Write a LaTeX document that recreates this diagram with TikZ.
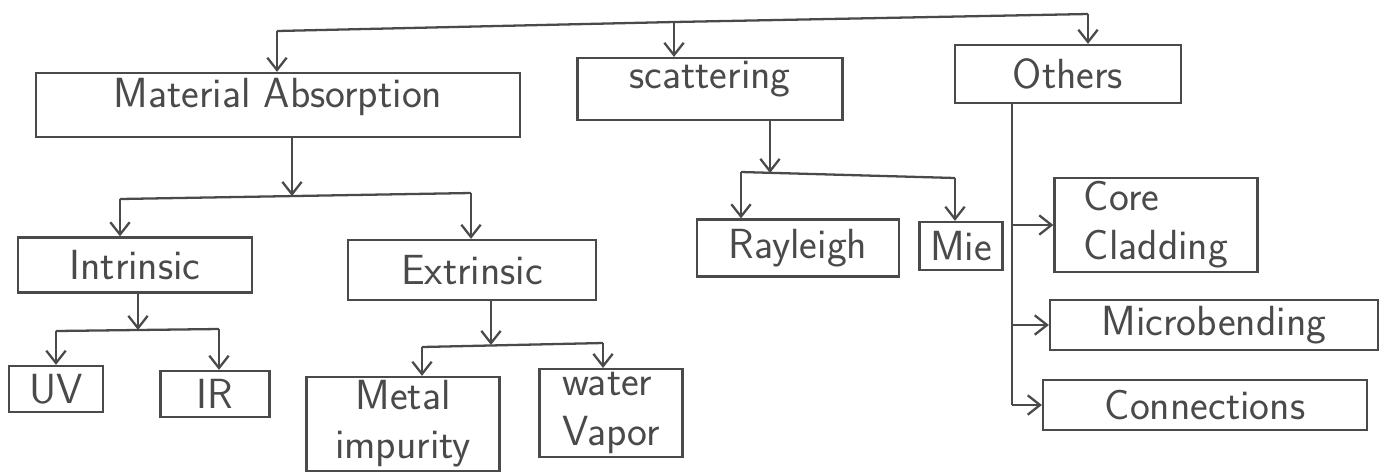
\documentclass[tikz,border=0pt]{standalone}
\usepackage{tikz}
\usetikzlibrary{arrows.meta}
\definecolor{ink}{HTML}{4a4a4a}

\begin{document}
\begin{tikzpicture}[x=0.02cm,y=-0.02cm,
  box/.style={draw=ink, line width=1.3pt, text=ink, inner sep=2pt,
    font=\sffamily\fontsize{24}{28}\selectfont},
  link/.style={draw=ink, line width=1.3pt},
  >={Straight Barb[length=7pt,width=11pt]}]
\useasboundingbox (0,0) rectangle (1388,471);
% first level
\node [box, minimum width=9.68cm, minimum height=1.28cm, text depth=0.5cm] (mat) at (278,105) {Material Absorption};
\node [box, minimum width=5.3cm, minimum height=1.16cm, text depth=0.55cm] (sca) at (710,89) {scattering};
\node [box, minimum width=4.52cm, minimum height=1.16cm] (oth) at (1068,74) {Others};
% absorption
\node [box, minimum width=4.68cm, minimum height=1.1cm] (intr) at (135,265) {Intrinsic};
\node [box, minimum width=4.96cm, minimum height=1.2cm] (extr) at (472,270) {Extrinsic};
\node [box, minimum width=1.88cm, minimum height=0.92cm] (uv) at (56,389) {UV};
\node [box, minimum width=2.18cm, minimum height=0.92cm] (ir) at (215,394) {IR};
\node [box, minimum width=3.86cm, minimum height=1.84cm, align=center] (metal) at (403,424) {Metal\\impurity};
\node [box, minimum width=2.86cm, minimum height=1.6cm, align=left] (water) at (611,413) {water\\Vapor};
% scattering
\node [box, minimum width=4.04cm, minimum height=1.14cm] (ray) at (798,248) {Rayleigh};
\node [box, minimum width=1.66cm, minimum height=0.96cm] (mie) at (961,246) {Mie};
% others
\node [box, minimum width=4.06cm, minimum height=1.8cm, align=left] (core) at (1156,225) {Core\\Cladding};
\node [box, minimum width=6.56cm, minimum height=1.0cm] (micro) at (1214,325) {Microbending};
\node [box, minimum width=6.48cm, minimum height=1.0cm] (conn) at (1205,405) {Connections};

% top branch
\coordinate (busL) at (277,31);
\coordinate (busM) at (674,22);
\coordinate (busR) at (1088,14);
\draw [link] (busL) -- (busM) -- (busR);
\draw [link,->] (busL) -- (busL |- mat.north);
\draw [link,->] (busM) -- (busM |- sca.north);
\draw [link,->] (busR) -- (busR |- oth.north);

% material absorption
\coordinate (matC) at (292,196);
\coordinate (matL) at (120,199);
\coordinate (matR) at (471,193);
\draw [link,->] (matC |- mat.south) -- (matC);
\draw [link] (matL) -- (matR);
\draw [link,->] (matL) -- (matL |- intr.north);
\draw [link,->] (matR) -- (matR |- extr.north);

% intrinsic
\coordinate (intC) at (138,330);
\coordinate (intL) at (56,331);
\coordinate (intR) at (219,329);
\draw [link,->] (intC |- intr.south) -- (intC);
\draw [link] (intL) -- (intR);
\draw [link,->] (intL) -- (intL |- uv.north);
\draw [link,->] (intR) -- (intR |- ir.north);

% extrinsic
\coordinate (extC) at (491,345);
\coordinate (extL) at (422,347);
\coordinate (extR) at (603,343);
\draw [link,->] (extC |- extr.south) -- (extC);
\draw [link] (extL) -- (extR);
\draw [link,->] (extL) -- (extL |- metal.north);
\draw [link,->] (extR) -- (extR |- water.north);

% scattering
\coordinate (scaC) at (770,173);
\coordinate (scaL) at (741,172);
\coordinate (scaR) at (955,178);
\draw [link,->] (scaC |- sca.south) -- (scaC);
\draw [link] (scaL) -- (scaR);
\draw [link,->] (scaL) -- (scaL |- ray.north);
\draw [link,->] (scaR) -- (scaR |- mie.north);

% others
\coordinate (spine) at (1012,405);
\draw [link] (spine |- oth.south) -- (spine);
\draw [link,->] (spine |- core.west) -- (core.west);
\draw [link,->] (spine |- micro.west) -- (micro.west);
\draw [link,->] (spine) -- (conn.west);
\end{tikzpicture}
\end{document}
